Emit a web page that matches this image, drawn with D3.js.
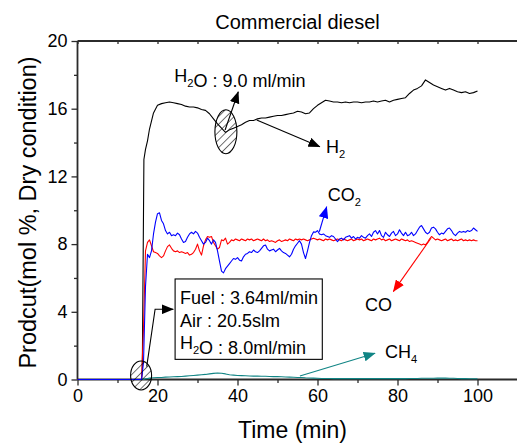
<!DOCTYPE html>
<html>
<head>
<meta charset="utf-8">
<script src="https://cdn.jsdelivr.net/npm/d3@7"></script>
<style>
  html, body { margin: 0; padding: 0; background: #fff; }
  svg { display: block; font-family: "Liberation Sans", Arial, sans-serif; }
</style>
</head>
<body>
<svg id="chart" width="517" height="444"></svg>
<script>
// Time grids (min)
const timeCoarse = [0, 15, 16, 16.2, 16.6, 17, 17.5, 18,
  19, 20, 21, 22, 23, 24, 25, 26, 27, 28,
  29, 30, 31, 32, 33, 34, 35, 36, 37, 38,
  39, 40, 41, 42, 43, 44, 45, 46, 47, 48,
  49, 50, 51, 52, 53, 54, 55, 56, 57, 58,
  59, 60, 61, 62, 63, 64, 65, 66, 67, 68,
  69, 70, 71, 72, 73, 74, 75, 76, 77, 78,
  79, 80, 81, 82, 83, 84, 85, 86, 87, 88,
  89, 90, 91, 92, 93, 94, 95, 96, 97, 98,
  99, 100];

const timeFine = [0, 15, 16,
  16.5, 17, 17.5, 18, 18.5, 19, 19.5, 20,
  20.5, 21, 21.5, 22, 22.5, 23, 23.5, 24, 24.5, 25,
  25.5, 26, 26.5, 27, 27.5, 28, 28.5, 29, 29.5, 30,
  30.5, 31, 31.5, 32, 32.5, 33, 33.5, 34, 34.5, 35,
  35.5, 36, 36.5, 37, 37.5, 38, 38.5, 39, 39.5, 40,
  40.5, 41, 41.5, 42, 42.5, 43, 43.5, 44, 44.5, 45,
  45.5, 46, 46.5, 47, 47.5, 48, 48.5, 49, 49.5, 50,
  50.5, 51, 51.5, 52, 52.5, 53, 53.5, 54, 54.5, 55,
  55.5, 56, 56.5, 57, 57.5, 58, 58.5, 59, 59.5, 60,
  60.5, 61, 61.5, 62, 62.5, 63, 63.5, 64, 64.5, 65,
  65.5, 66, 66.5, 67, 67.5, 68, 68.5, 69, 69.5, 70,
  70.5, 71, 71.5, 72, 72.5, 73, 73.5, 74, 74.5, 75,
  75.5, 76, 76.5, 77, 77.5, 78, 78.5, 79, 79.5, 80,
  80.5, 81, 81.5, 82, 82.5, 83, 83.5, 84, 84.5, 85,
  85.5, 86, 86.5, 87, 87.5, 88, 88.5, 89, 89.5, 90,
  90.5, 91, 91.5, 92, 92.5, 93, 93.5, 94, 94.5, 95,
  95.5, 96, 96.5, 97, 97.5, 98, 98.5, 99, 99.5, 100];

// Product concentrations (mol %, dry basis)
const h2Values = [0, 0, 0, 0.5, 13.0, 13.6, 14.1, 14.8,
  15.75, 16.2, 16.3, 16.35, 16.4, 16.35, 16.3, 16.25, 16.15, 16.1,
  16.1, 16.05, 15.95, 15.9, 15.7, 15.4, 15.1, 14.85, 14.6, 14.75,
  14.85, 14.95, 15.05, 15.2, 15.3, 15.3, 15.4, 15.45, 15.45, 15.5,
  15.55, 15.6, 15.6, 15.65, 15.7, 15.75, 15.85, 15.8, 15.7, 15.75,
  16.0, 16.2, 16.35, 16.5, 16.45, 16.4, 16.4, 16.35, 16.4, 16.35,
  16.4, 16.4, 16.35, 16.4, 16.4, 16.45, 16.4, 16.45, 16.5, 16.4,
  16.5, 16.55, 16.6, 16.65, 16.9, 17.1, 17.2, 17.35, 17.7, 17.55,
  17.4, 17.3, 17.2, 17.1, 17.2, 17.1, 17.0, 16.95, 17.0, 16.9,
  16.95, 17.05];

const ch4Values = [0, 0, 0, 0, 0.02, 0.04, 0.06, 0.08,
  0.1, 0.12, 0.12, 0.14, 0.15, 0.16, 0.17, 0.18, 0.2, 0.22,
  0.24, 0.26, 0.28, 0.3, 0.33, 0.36, 0.38, 0.37, 0.33, 0.28,
  0.26, 0.24, 0.23, 0.22, 0.21, 0.2, 0.2, 0.19, 0.19, 0.18,
  0.17, 0.17, 0.16, 0.15, 0.14, 0.13, 0.12, 0.12, 0.1, 0.09,
  0.08, 0.07, 0.06, 0.06, 0.06, 0.05, 0.05, 0.05, 0.06, 0.05,
  0.05, 0.05, 0.05, 0.06, 0.05, 0.05, 0.05, 0.05, 0.06, 0.05,
  0.05, 0.05, 0.05, 0.05, 0.06, 0.06, 0.06, 0.07, 0.07, 0.07,
  0.07, 0.08, 0.08, 0.08, 0.07, 0.07, 0.06, 0.05, 0.05, 0.04,
  0.04, 0.04];

const co2Values = [0, 0, 0,
  1.0, 5.5, 7.4, 7.2, 7.6, 8.6, 9.3, 9.8,
  9.85, 9.4, 9.2, 8.8, 8.6, 8.7, 8.5, 8.55, 8.5, 8.65,
  8.55, 8.3, 8.1, 8.15, 8.4, 8.6, 8.7, 8.6, 8.75, 8.65,
  8.4, 8.2, 8.0, 8.1, 8.35, 8.2, 8.0, 8.25, 8.1, 7.6,
  7.0, 6.4, 6.3, 6.55, 6.7, 6.85, 7.0, 7.15, 7.1, 7.2,
  7.05, 7.0, 7.25, 7.4, 7.45, 7.55, 7.5, 7.65, 7.55, 7.5,
  7.6, 7.75, 7.9, 7.95, 7.7, 7.6, 7.65, 7.7, 7.55, 7.65,
  7.75, 7.6, 7.5, 7.45, 7.35, 7.25, 7.4, 7.7, 7.9, 8.05,
  8.2, 8.0, 7.5, 7.15, 7.6, 8.1, 8.5, 8.72, 8.7, 8.8,
  8.6, 8.55, 8.6, 8.5, 8.45, 8.4, 8.5, 8.45, 8.3, 8.15,
  8.3, 8.35, 8.25, 8.4, 8.45, 8.5, 8.35, 8.45, 8.3, 8.4,
  8.35, 8.5, 8.4, 8.35, 8.5, 8.6, 8.45, 8.7, 8.8, 8.6,
  8.8, 8.5, 8.4, 8.7, 8.55, 8.45, 8.65, 8.75, 8.5, 8.6,
  8.85, 8.65, 8.5, 8.7, 8.5, 8.55, 8.7, 8.5, 8.6, 8.8,
  9.0, 9.1, 8.9, 8.7, 8.6, 8.7, 8.95, 9.0, 8.9, 8.7,
  8.55, 8.65, 8.6, 8.75, 8.9, 8.95, 8.8, 8.6, 8.5, 8.65,
  8.75, 8.7, 8.75, 8.7, 8.8, 8.75, 8.8, 8.95, 8.85, 8.75];

const coValues = [0, 0, 0,
  3.0, 7.6, 8.1, 8.25, 7.9, 7.55, 7.5, 7.45,
  7.3, 7.2, 7.3, 7.6, 7.85, 7.95, 7.75, 7.6, 7.55, 7.6,
  7.5, 7.55, 7.5, 7.45, 7.5, 7.35, 7.4, 7.5, 7.7, 8.0,
  7.6, 7.35, 7.9, 8.25, 8.45, 8.4, 8.45, 8.1, 7.9, 7.7,
  7.8, 8.25, 8.2, 8.35, 8.0, 8.1, 8.25, 8.2, 8.3, 8.25,
  8.2, 8.3, 8.25, 8.2, 8.3, 8.25, 8.3, 8.2, 8.25, 8.3,
  8.25, 8.2, 8.3, 8.2, 8.25, 8.15, 8.2, 8.15, 8.1, 8.2,
  8.25, 8.15, 8.2, 8.25, 8.2, 8.3, 8.25, 8.2, 8.3, 8.25,
  8.3, 8.25, 8.3, 8.25, 8.2, 8.25, 8.3, 8.35, 8.3, 8.25,
  8.3, 8.25, 8.2, 8.3, 8.25, 8.3, 8.25, 8.2, 8.25, 8.3,
  8.25, 8.2, 8.3, 8.25, 8.2, 8.25, 8.3, 8.2, 8.25, 8.3,
  8.25, 8.3, 8.2, 8.25, 8.3, 8.25, 8.2, 8.3, 8.25, 8.3,
  8.35, 8.25, 8.3, 8.2, 8.25, 8.3, 8.2, 8.25, 8.3, 8.25,
  8.2, 8.3, 8.25, 8.2, 8.25, 8.15, 8.2, 8.15, 8.1, 8.05,
  8.0, 7.95, 8.0, 7.95, 8.1, 8.3, 8.45, 8.35, 8.25, 8.3,
  8.25, 8.2, 8.25, 8.3, 8.2, 8.25, 8.3, 8.2, 8.25, 8.2,
  8.25, 8.3, 8.2, 8.25, 8.2, 8.25, 8.2, 8.25, 8.2, 8.2];

// Axis ticks
const xMajorTicks = [0, 20, 40, 60, 80, 100];
const xMinorTicks = [10, 30, 50, 70, 90];
const yMajorTicks = [0, 4, 8, 12, 16, 20];
const yMinorTicks = [2, 6, 10, 14, 18];

const svg = d3.select("#chart");
const W = 517;
const margin = { left: 77.5, right: 39.5, top: 41, bottom: 64.5 };
const plotRight = W - margin.right;
const plotBottom = 444 - margin.bottom;

const x = d3.scaleLinear().domain([0, 100]).range([margin.left, plotRight]);
const y = d3.scaleLinear().domain([0, 20]).range([plotBottom, margin.top]);

const axisColor = "#2b2b2b";
const FONT = "Liberation Sans, Arial, sans-serif";

// Arrowhead markers
const defs = svg.append("defs");
function marker(id, color) {
  defs.append("marker")
    .attr("id", id)
    .attr("markerUnits", "userSpaceOnUse")
    .attr("markerWidth", 12).attr("markerHeight", 10)
    .attr("viewBox", "0 0 11 9")
    .attr("refX", 10.5).attr("refY", 4.5)
    .attr("orient", "auto")
    .append("path").attr("d", "M0,0 L11,4.5 L0,9 Z").attr("fill", color);
}
marker("arrK", "#000");
marker("arrB", "#0000ff");
marker("arrR", "#ff0000");
marker("arrT", "#118585");

// Diagonal hatch for the highlight ellipses
const hatch = defs.append("pattern")
  .attr("id", "hatch")
  .attr("patternUnits", "userSpaceOnUse")
  .attr("width", 5.5).attr("height", 5.5)
  .attr("patternTransform", "rotate(45)");
hatch.append("line")
  .attr("x1", 0).attr("y1", 0).attr("x2", 0).attr("y2", 5.5)
  .attr("stroke", "#000").attr("stroke-width", 1.1);

// Axis ticks
const gAxes = svg.append("g");
gAxes.append("g")
  .attr("transform", `translate(0,${plotBottom})`)
  .call(d3.axisBottom(x).tickValues(xMajorTicks).tickSize(6).tickPadding(4).tickFormat(d3.format("d")))
  .call(g => g.select(".domain").remove());
gAxes.append("g")
  .attr("transform", `translate(0,${plotBottom})`)
  .call(d3.axisBottom(x).tickValues(xMinorTicks).tickSize(3.5).tickFormat(""))
  .call(g => g.select(".domain").remove());
gAxes.append("g")
  .attr("transform", `translate(0,${margin.top})`)
  .call(d3.axisBottom(x).tickValues(xMajorTicks.concat(xMinorTicks)).tickSize(3).tickFormat(""))
  .call(g => g.select(".domain").remove());
gAxes.append("g")
  .attr("transform", `translate(${margin.left},0)`)
  .call(d3.axisLeft(y).tickValues(yMajorTicks).tickSize(6).tickPadding(4).tickFormat(d3.format("d")))
  .call(g => g.select(".domain").remove());
gAxes.append("g")
  .attr("transform", `translate(${margin.left},0)`)
  .call(d3.axisLeft(y).tickValues(yMinorTicks).tickSize(3.5).tickFormat(""))
  .call(g => g.select(".domain").remove());

gAxes.selectAll(".tick line").attr("stroke", axisColor).attr("stroke-width", 1.3);
gAxes.selectAll(".tick text")
  .attr("fill", "#000").style("font-family", FONT).style("font-size", "18px");

// Frame lines (left, top, bottom)
gAxes.append("line").attr("x1", margin.left).attr("x2", W)
  .attr("y1", margin.top).attr("y2", margin.top)
  .attr("stroke", axisColor).attr("stroke-width", 1.8);
gAxes.append("line").attr("x1", margin.left).attr("x2", W)
  .attr("y1", plotBottom).attr("y2", plotBottom)
  .attr("stroke", axisColor).attr("stroke-width", 1.8);
gAxes.append("line").attr("x1", margin.left).attr("x2", margin.left)
  .attr("y1", margin.top).attr("y2", plotBottom)
  .attr("stroke", axisColor).attr("stroke-width", 1.8);

// Series
const series = [
  { name: "CH4", t: timeCoarse, v: ch4Values, color: "#118585" },
  { name: "H2", t: timeCoarse, v: h2Values, color: "#000000" },
  { name: "CO", t: timeFine, v: coValues, color: "#ff0000" },
  { name: "CO2", t: timeFine, v: co2Values, color: "#0000ff" }
];
const line = d3.line().x(d => x(d[0])).y(d => y(d[1]));
svg.append("g").selectAll("path")
  .data(series)
  .join("path")
  .attr("d", s => line(s.t.map((t, i) => [t, s.v[i]])))
  .attr("fill", "none")
  .attr("stroke", s => s.color)
  .attr("stroke-width", 1.1)
  .attr("stroke-linejoin", "round");

// Annotations
const ann = svg.append("g").style("font-family", FONT);

function arrow(points, color, markerId) {
  ann.append("path")
    .attr("d", d3.line()(points.map(p => [x(p[0]), y(p[1])])))
    .attr("fill", "none").attr("stroke", color).attr("stroke-width", 1.1)
    .attr("marker-end", `url(#${markerId})`);
}

function label(tx, ty, parts, size) {
  const t = ann.append("text")
    .attr("x", x(tx)).attr("y", y(ty))
    .style("font-size", size + "px").attr("fill", "#000");
  parts.forEach(p => {
    if (p.sub) {
      t.append("tspan").attr("dy", 5).style("font-size", (size * 0.62) + "px").text(p.sub);
      t.append("tspan").attr("dy", -5).text("");
    } else {
      t.append("tspan").text(p.t);
    }
  });
  return t;
}

// Hatched ellipses marking the feed changes
ann.append("ellipse")
  .attr("cx", x(37.1)).attr("cy", y(14.64)).attr("rx", 11).attr("ry", 22)
  .attr("fill", "url(#hatch)").attr("stroke", "#000").attr("stroke-width", 1.1);
ann.append("ellipse")
  .attr("cx", x(15.9)).attr("cy", y(0.24)).attr("rx", 10.5).attr("ry", 14.5)
  .attr("fill", "url(#hatch)").attr("stroke", "#000").attr("stroke-width", 1.1);

arrow([[36.9, 14.74], [40.2, 17.0]], "#000", "arrK");
arrow([[44.8, 15.33], [60.6, 13.75]], "#000", "arrK");
arrow([[60.45, 8.73], [62.3, 10.21]], "#0000ff", "arrB");
arrow([[88.4, 8.36], [78.95, 5.19]], "#ff0000", "arrR");
arrow([[55.6, 0.21], [74.4, 1.55]], "#118585", "arrT");
arrow([[17.3, 0.76], [19.4, 4.15], [23.95, 4.15]], "#000", "arrK");

label(24.2, 17.59, [{ t: "H" }, { sub: "2" }, { t: "O : 9.0 ml/min" }], 18);
label(62.1, 13.38, [{ t: "H" }, { sub: "2" }], 18);
label(62.55, 10.56, [{ t: "CO" }, { sub: "2" }], 18);
label(71.9, 4.06, [{ t: "CO" }], 18);
label(76.9, 1.27, [{ t: "CH" }, { sub: "4" }], 18);

// Feed condition box
ann.append("rect")
  .attr("x", x(24.4)).attr("y", y(5.94))
  .attr("width", x(61.2) - x(24.4)).attr("height", y(1.19) - y(5.94))
  .attr("fill", "#fff").attr("stroke", "#000").attr("stroke-width", 1.1);
label(25.6, 4.46, [{ t: "Fuel : 3.64ml/min" }], 18);
label(25.6, 3.12, [{ t: "Air : 20.5slm" }], 18);
label(25.6, 1.78, [{ t: "H" }, { sub: "2" }, { t: "O : 8.0ml/min" }], 18);

// Titles
svg.append("text")
  .attr("x", 297.5).attr("y", 29)
  .attr("text-anchor", "middle")
  .style("font-family", FONT).style("font-size", "20px")
  .text("Commercial diesel");
svg.append("text")
  .attr("x", 292.5).attr("y", 438)
  .attr("text-anchor", "middle")
  .style("font-family", FONT).style("font-size", "23px")
  .text("Time (min)");
svg.append("text")
  .attr("transform", "translate(35.5,212.5) rotate(-90)")
  .attr("text-anchor", "middle")
  .style("font-family", FONT).style("font-size", "23.5px")
  .text("Prodcut(mol %, Dry condition)");
</script>
</body>
</html>
